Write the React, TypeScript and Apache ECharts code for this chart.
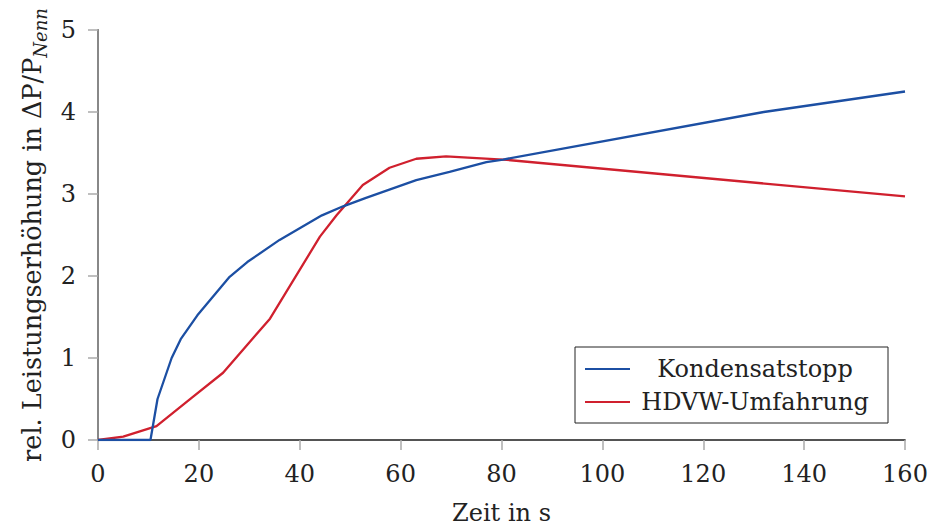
import React, { useEffect, useRef } from "react";
import * as echarts from "echarts";

const kondensatX = [0, 10.4, 11.8, 14.6, 16.4, 19.7, 26.1, 29.6, 36.0, 44.4, 48.6, 53, 63.1, 69.7, 77.0, 80.3, 132, 160];
const kondensatY = [0, 0, 0.5, 1.0, 1.23, 1.52, 1.99, 2.17, 2.44, 2.74, 2.85, 2.95, 3.17, 3.27, 3.39, 3.42, 4.0, 4.25];
const hdvwX = [0, 5, 11.6, 18.5, 24.8, 34.1, 44.0, 47.3, 52.5, 57.8, 63.1, 69.0, 80.3, 160];
const hdvwY = [0, 0.04, 0.17, 0.51, 0.82, 1.48, 2.48, 2.74, 3.11, 3.32, 3.43, 3.46, 3.42, 2.97];
const seriesNames = ["Kondensatstopp", "HDVW-Umfahrung"];
const xTitle = "Zeit in s";
const yTitle = "rel. Leistungserhöhung in ΔP/P";
const ySub = "Nenn";

const FONT = "DejaVu Serif";

export default function App() {
  const ref = useRef<HTMLDivElement>(null);
  useEffect(() => {
    const chart = echarts.init(ref.current!, null, { renderer: "svg" });
    const pair = (xs: number[], ys: number[]) => xs.map((x, i) => [x, ys[i]]);
    chart.setOption({
      animation: false,
      backgroundColor: "#fff",
      textStyle: { fontFamily: FONT, color: "#222" },
      grid: { left: 98, right: 25, top: 30, bottom: 86, outerBoundsMode: "none", containLabel: false },
      legend: {
        orient: "vertical",
        left: 575,
        top: 347,
        padding: [10, 13, 9, 10],
        icon: "rect",
        itemWidth: 45,
        itemHeight: 2,
        itemGap: 9,
        borderColor: "#222",
        borderWidth: 1,
        backgroundColor: "#fff",
        data: seriesNames,
        formatter: "{c|{name}}",
        textStyle: {
          fontFamily: FONT,
          fontSize: 24,
          color: "#222",
          rich: { c: { width: 240, align: "center", fontSize: 24, lineHeight: 28, fontFamily: FONT, color: "#222" } },
        },
      },
      xAxis: [
        {
          type: "value",
          min: 0,
          max: 160,
          interval: 20,
          name: xTitle,
          nameLocation: "middle",
          nameGap: 62,
          nameTextStyle: { fontFamily: FONT, fontSize: 24, lineHeight: 22, color: "#222" },
          axisLine: { show: true, lineStyle: { color: "#999", width: 1.5 } },
          axisTick: { show: true, inside: false, length: 10, lineStyle: { color: "#aaa", width: 1.5 } },
          axisLabel: { fontFamily: FONT, fontSize: 24, color: "#222", margin: 22 },
          splitLine: { show: false },
        },
        {
          type: "value",
          position: "top",
          min: 0,
          max: 160,
          axisLine: { show: true, lineStyle: { color: "#333", width: 1.5 } },
          axisTick: { show: false },
          axisLabel: { show: false },
          splitLine: { show: false },
        },
      ],
      yAxis: [
        {
          type: "value",
          min: 0,
          max: 5,
          interval: 1,
          name: `{a|${yTitle}}{s|${ySub}}`,
          nameLocation: "middle",
          nameGap: 46,
          nameTextStyle: {
            rich: {
              a: { fontFamily: FONT, fontSize: 25.5, color: "#222", lineHeight: 31, verticalAlign: "top" },
              s: { fontFamily: FONT, fontSize: 18, fontStyle: "italic", color: "#222", lineHeight: 21, verticalAlign: "bottom" },
            },
          },
          axisLine: { show: true, lineStyle: { color: "#222", width: 1.5 } },
          axisTick: { show: true, inside: false, length: 10, lineStyle: { color: "#aaa", width: 1.5 } },
          axisLabel: { fontFamily: FONT, fontSize: 24, color: "#222", margin: 22 },
          splitLine: { show: false },
        },
        {
          type: "value",
          position: "right",
          min: 0,
          max: 5,
          axisLine: { show: true, lineStyle: { color: "#888", width: 2 } },
          axisTick: { show: false },
          axisLabel: { show: false },
          splitLine: { show: false },
        },
      ],
      series: [
        {
          name: seriesNames[0],
          type: "line",
          data: pair(kondensatX, kondensatY),
          symbol: "none",
          lineStyle: { color: "#1c4fa3", width: 2.3 },
          itemStyle: { color: "#1c4fa3" },
          z: 3,
        },
        {
          name: seriesNames[1],
          type: "line",
          data: pair(hdvwX, hdvwY),
          symbol: "none",
          lineStyle: { color: "#d0202e", width: 2.3 },
          itemStyle: { color: "#d0202e" },
          z: 2,
        },
      ],
    });
    return () => chart.dispose();
  }, []);
  return <div ref={ref} style={{ position: "absolute", left: 0, top: 0, width: 930, height: 526 }} />;
}
